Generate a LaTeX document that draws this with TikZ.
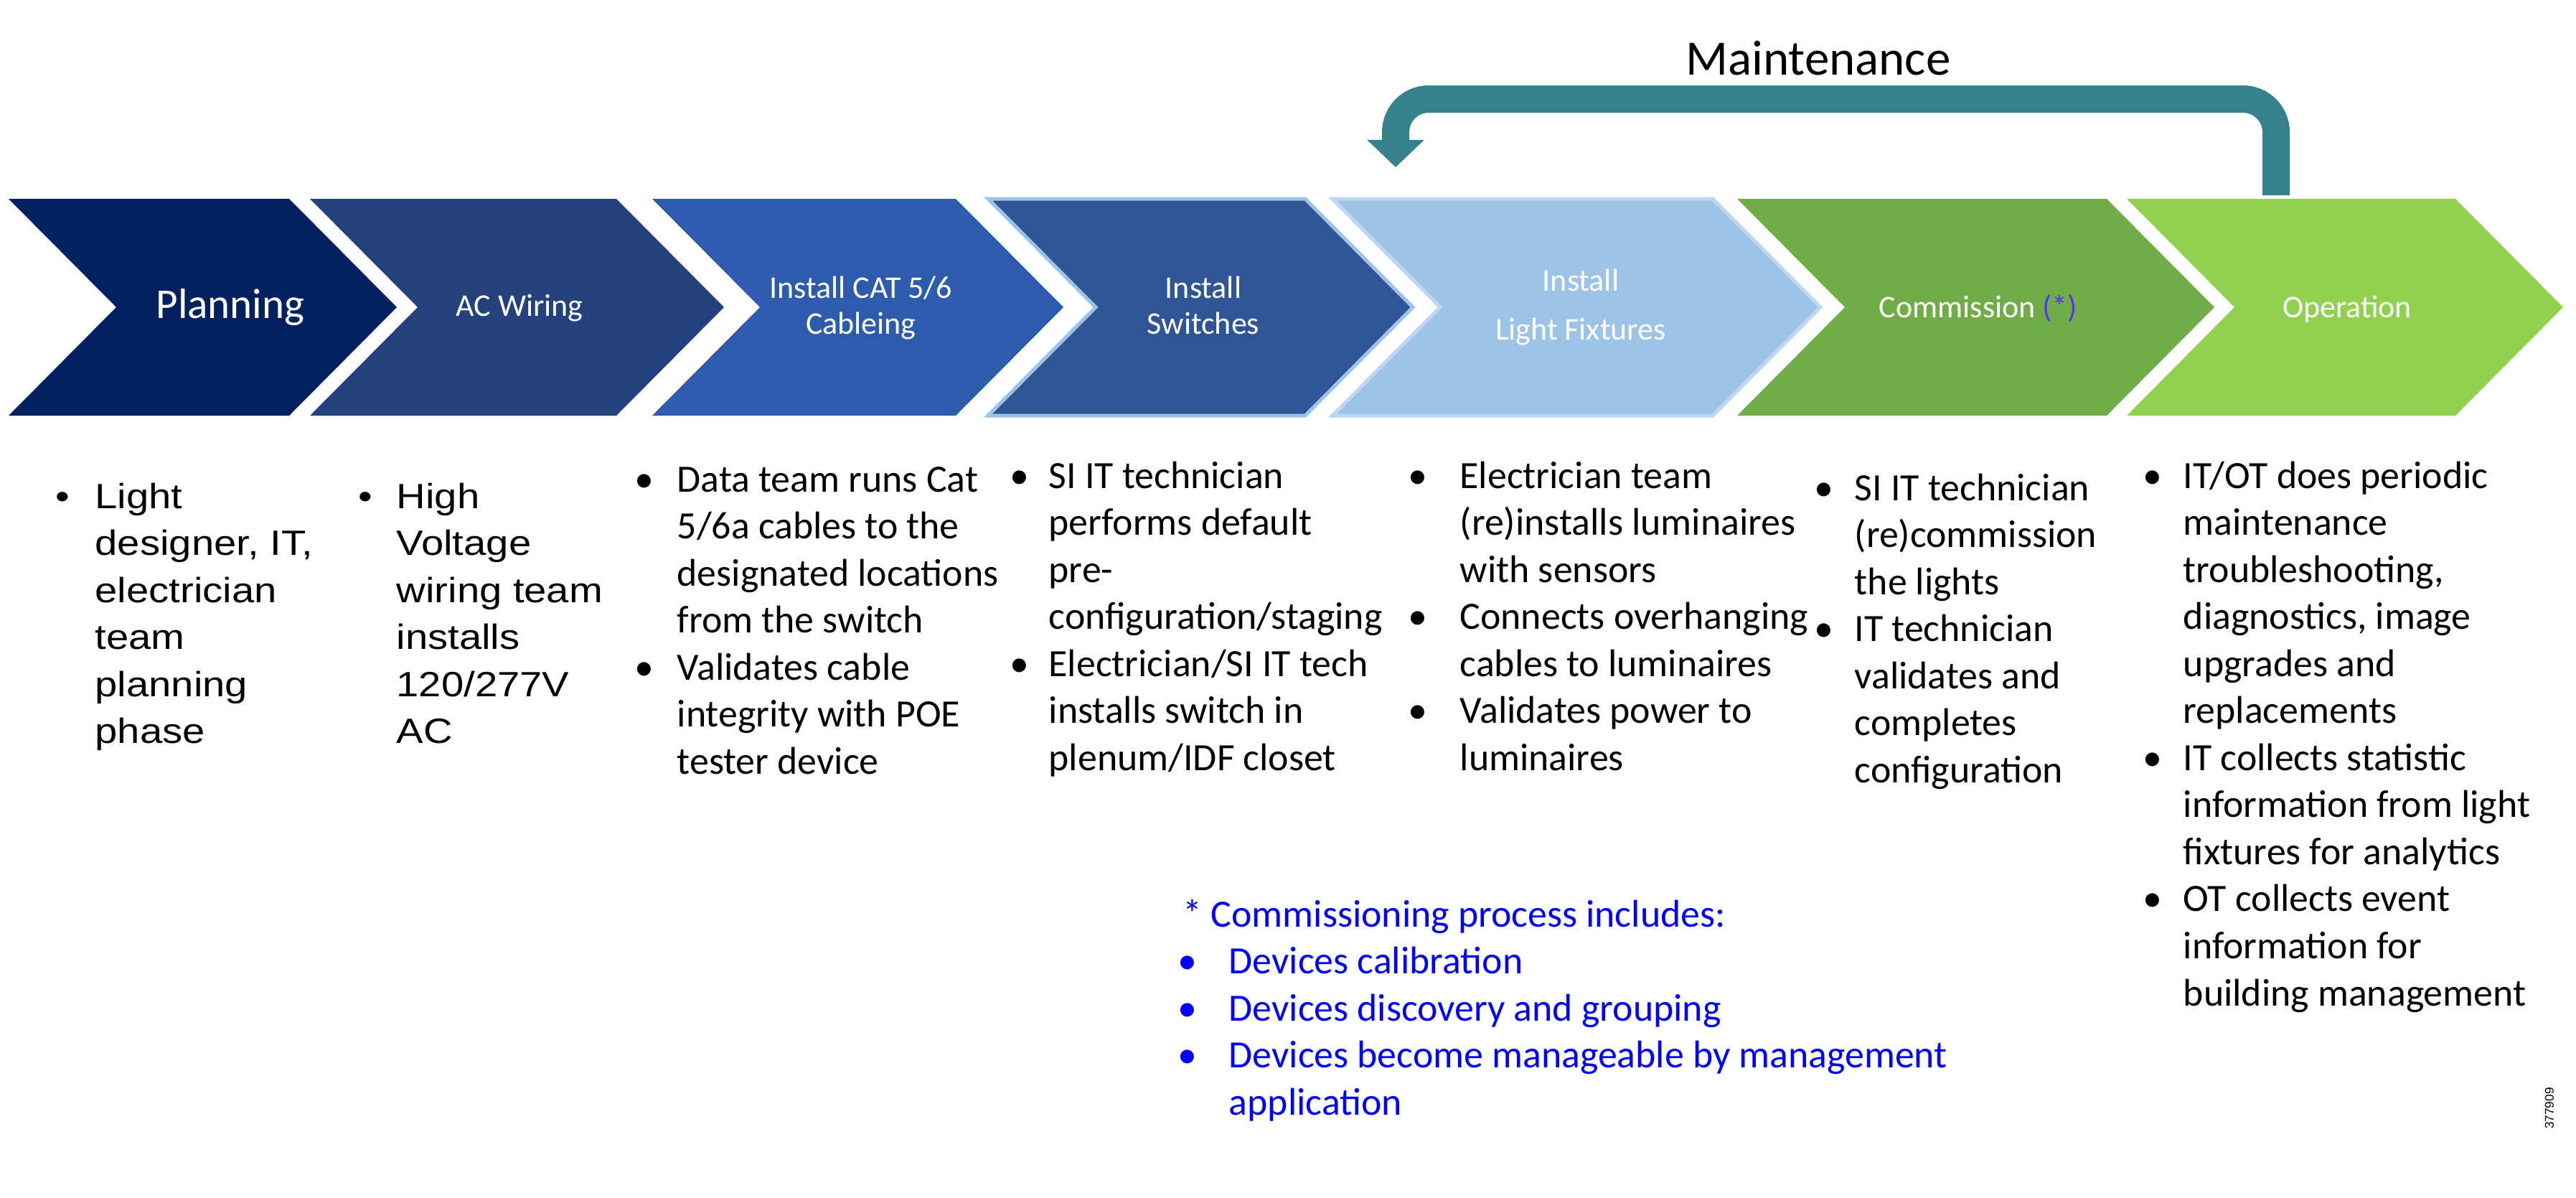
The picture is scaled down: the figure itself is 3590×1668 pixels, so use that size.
\documentclass[tikz,border=0pt]{standalone}
\usepackage{fontspec}
\setmainfont{Carlito}
\newfontfamily\fuenteNumero{Liberation Sans}
\newfontfamily\fuenteArial[FakeStretch=1.15]{Liberation Sans}
\usetikzlibrary{arrows.meta}
\definecolor{colPlaneacion}{HTML}{002060}
\definecolor{colCableado}{HTML}{23417B}
\definecolor{colCat}{HTML}{2E5CAD}
\definecolor{colSwitch}{HTML}{2F5597}
\definecolor{colLuminaria}{HTML}{9DC3E6}
\definecolor{colBordeClaro}{HTML}{BDD7EE}
\definecolor{colComision}{HTML}{70AD47}
\definecolor{colOperacion}{HTML}{92D050}
\definecolor{colMant}{HTML}{35818C}
\definecolor{colAsterisco}{HTML}{5A32FA}
\definecolor{colAzul}{HTML}{0000FF}
\newcommand{\fuenteLista}{\fontsize{15.3}{18.64}\selectfont}
\newcommand{\fuenteListaArial}{\fuenteArial\fontsize{13.9}{18.64}\selectfont}
\newcommand{\fuenteFase}{\fontsize{12.5}{14.2}\selectfont}
\newcommand{\fuenteFaseAlta}{\fontsize{12.5}{19.35}\selectfont}
\newcommand{\fuentePlan}{\fontsize{16.8}{20}\selectfont}
\newcommand{\fuenteMant}{\fontsize{19.6}{23}\selectfont}
\tikzset{
  chevPlaneacion/.style={fill=colPlaneacion},
  chevCableado/.style={fill=colCableado},
  chevCat/.style={fill=colCat},
  chevSwitch/.style={fill=colSwitch, draw=colLuminaria, line width=0.05cm},
  chevLuminaria/.style={fill=colLuminaria, draw=colBordeClaro, line width=0.05cm},
  chevComision/.style={fill=colComision},
  chevOperacion/.style={fill=colOperacion},
  textoFase/.style={text=white, align=center, inner sep=0pt, font=\fuenteFase},
  textoLista/.style={anchor=base west, inner sep=0pt, font=\fuenteLista},
  flechaMant/.style={draw=colMant, line width=0.38cm, rounded corners=0.46cm,
    -{Triangle[width=0.77cm, length=0.38cm]}},
}
\begin{document}
\begin{tikzpicture}[x=0.01cm, y=-0.01cm]
  \useasboundingbox (0,0) rectangle (3590,1668);
  % fases
  \foreach \izq/\pun/\estilo in {12/553/chevPlaneacion, 432/1009/chevCableado,
      909/1482/chevCat, 1377/1969/chevSwitch, 1857/2537/chevLuminaria,
      2421/3086/chevComision, 2964/3572/chevOperacion}
    \path[\estilo] (\izq,277) -- (\pun-150,277) -- (\pun,428) -- (\pun-150,579)
      -- (\izq,579) -- (\izq+150,428) -- cycle;
  \node[textoFase, font=\fuentePlan, anchor=base] (planning) at (321,443) {Planning};
  \node[textoFase, anchor=base] (acwiring) at (724,440) {AC Wiring};
  \node[textoFase] (cat) at (1200,429) {Install CAT 5/6\\Cableing};
  \node[textoFase] (switches) at (1677,425) {Install\\Switches};
  \node[textoFase, font=\fuenteFaseAlta] (luminarias) at (2203,428) {Install\\Light Fixtures};
  \node[textoFase, anchor=base] (commission) at (2757,442) {Commission \textcolor{colAsterisco}{(*)}};
  \node[textoFase, anchor=base] (operation) at (3271,442) {Operation};

  % mantenimiento
  \coordinate (mantIni) at (3172,272);
  \coordinate (mantFin) at (1945,233);
  \draw[flechaMant] (mantIni) -- ++(0,-134) -| (mantFin);
  \node[font=\fuenteMant, anchor=base, inner sep=0pt] (maintenance) at (2534,104) {Maintenance};

  % listas
  \node[textoLista, font=\fuenteListaArial] (lista1) at (77,708) {\begin{tabular}[t]{@{}p{0.55cm}@{}l@{}}
    • & Light\\ & designer, IT,\\ & electrician\\ & team\\ & planning\\ & phase
  \end{tabular}};
  \node[textoLista, font=\fuenteListaArial] (lista2) at (499,708) {\begin{tabular}[t]{@{}p{0.53cm}@{}l@{}}
    • & High\\ & Voltage\\ & wiring team\\ & installs\\ & 120/277V\\ & AC
  \end{tabular}};
  \node[textoLista] (lista3) at (884,685) {\begin{tabular}[t]{@{}p{0.59cm}@{}l@{}}
    • & Data team runs Cat\\ & 5/6a cables to the\\ & designated locations\\
      & from the switch\\
    • & Validates cable\\ & integrity with POE\\ & tester device
  \end{tabular}};
  \node[textoLista] (lista4) at (1407,680) {\begin{tabular}[t]{@{}p{0.54cm}@{}l@{}}
    • & SI IT technician\\ & performs default\\ & pre-\\ & configuration/staging\\
    • & Electrician/SI IT tech\\ & installs switch in\\ & plenum/IDF closet
  \end{tabular}};
  \node[textoLista] (lista5) at (1962,680) {\begin{tabular}[t]{@{}p{0.72cm}@{}l@{}}
    • & Electrician team\\ & (re)installs luminaires\\ & with sensors\\
    • & Connects overhanging\\ & cables to luminaires\\
    • & Validates power to\\ & luminaires
  \end{tabular}};
  \node[textoLista] (lista6) at (2528,697) {\begin{tabular}[t]{@{}p{0.56cm}@{}l@{}}
    • & SI IT technician\\ & (re)commission\\ & the lights\\
    • & IT technician\\ & validates and\\ & completes\\ & configuration
  \end{tabular}};
  \node[textoLista] (lista7) at (2986,680) {\begin{tabular}[t]{@{}p{0.56cm}@{}l@{}}
    • & IT/OT does periodic\\ & maintenance\\ & troubleshooting,\\
      & diagnostics, image\\ & upgrades and\\ & replacements\\
    • & IT collects statistic\\ & information from light\\ & fixtures for analytics\\
    • & OT collects event\\ & information for\\ & building management
  \end{tabular}};
  \node[textoLista, text=colAzul] (comisionado) at (1641,1291) {\begin{tabular}[t]{@{}p{0.71cm}@{}l@{}}
    \multicolumn{2}{@{}l@{}}{\hspace{0.07cm}* Commissioning process includes:}\\
    • & Devices calibration\\
    • & Devices discovery and grouping\\
    • & Devices become manageable by management\\
      & application
  \end{tabular}};

  \node[font={\fuenteNumero\fontsize{4.9}{6}\selectfont}, rotate=90, inner sep=0pt] (folio) at (3553,1544) {377909};
\end{tikzpicture}
\end{document}
